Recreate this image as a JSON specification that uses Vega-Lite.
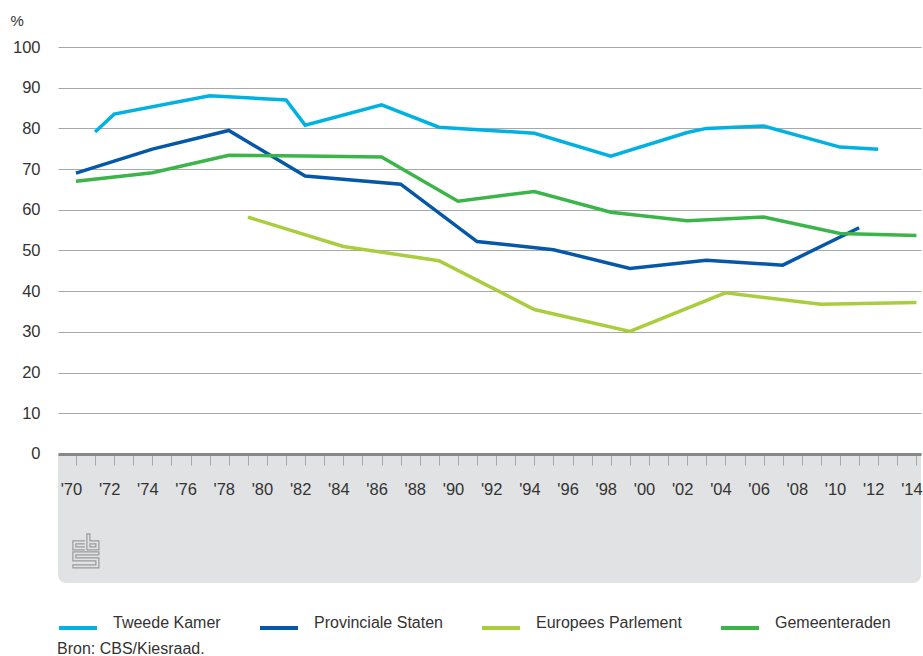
{
  "$schema": "https://vega.github.io/schema/vega-lite/v6.json",
  "autosize": "none",
  "padding": {"left": 58, "top": 47, "right": 2, "bottom": 73},
  "width": 863,
  "height": 536,
  "background": "white",
  "config": {"view": {"stroke": null}, "font": "Liberation Sans"},
  "datasets": {
    "turnout": [
      {"series": "Tweede Kamer", "year": 1971, "pct": 79.1},
      {"series": "Tweede Kamer", "year": 1972, "pct": 83.5},
      {"series": "Tweede Kamer", "year": 1977, "pct": 88.0},
      {"series": "Tweede Kamer", "year": 1981, "pct": 87.0},
      {"series": "Tweede Kamer", "year": 1982, "pct": 80.8},
      {"series": "Tweede Kamer", "year": 1986, "pct": 85.8},
      {"series": "Tweede Kamer", "year": 1989, "pct": 80.3},
      {"series": "Tweede Kamer", "year": 1994, "pct": 78.8},
      {"series": "Tweede Kamer", "year": 1998, "pct": 73.2},
      {"series": "Tweede Kamer", "year": 2002, "pct": 79.0},
      {"series": "Tweede Kamer", "year": 2003, "pct": 80.0},
      {"series": "Tweede Kamer", "year": 2006, "pct": 80.6},
      {"series": "Tweede Kamer", "year": 2010, "pct": 75.4},
      {"series": "Tweede Kamer", "year": 2012, "pct": 74.9},
      {"series": "Provinciale Staten", "year": 1970, "pct": 69.0},
      {"series": "Provinciale Staten", "year": 1974, "pct": 74.9},
      {"series": "Provinciale Staten", "year": 1978, "pct": 79.5},
      {"series": "Provinciale Staten", "year": 1982, "pct": 68.3},
      {"series": "Provinciale Staten", "year": 1987, "pct": 66.3},
      {"series": "Provinciale Staten", "year": 1991, "pct": 52.2},
      {"series": "Provinciale Staten", "year": 1995, "pct": 50.2},
      {"series": "Provinciale Staten", "year": 1999, "pct": 45.6},
      {"series": "Provinciale Staten", "year": 2003, "pct": 47.6},
      {"series": "Provinciale Staten", "year": 2007, "pct": 46.4},
      {"series": "Provinciale Staten", "year": 2011, "pct": 55.6},
      {"series": "Europees Parlement", "year": 1979, "pct": 58.2},
      {"series": "Europees Parlement", "year": 1984, "pct": 51.0},
      {"series": "Europees Parlement", "year": 1989, "pct": 47.5},
      {"series": "Europees Parlement", "year": 1994, "pct": 35.5},
      {"series": "Europees Parlement", "year": 1999, "pct": 30.1},
      {"series": "Europees Parlement", "year": 2004, "pct": 39.6},
      {"series": "Europees Parlement", "year": 2009, "pct": 36.8},
      {"series": "Europees Parlement", "year": 2014, "pct": 37.2},
      {"series": "Gemeenteraden", "year": 1970, "pct": 67.0},
      {"series": "Gemeenteraden", "year": 1974, "pct": 69.1},
      {"series": "Gemeenteraden", "year": 1978, "pct": 73.4},
      {"series": "Gemeenteraden", "year": 1982, "pct": 73.2},
      {"series": "Gemeenteraden", "year": 1986, "pct": 73.0},
      {"series": "Gemeenteraden", "year": 1990, "pct": 62.1},
      {"series": "Gemeenteraden", "year": 1994, "pct": 64.5},
      {"series": "Gemeenteraden", "year": 1998, "pct": 59.4},
      {"series": "Gemeenteraden", "year": 2002, "pct": 57.3},
      {"series": "Gemeenteraden", "year": 2006, "pct": 58.2},
      {"series": "Gemeenteraden", "year": 2010, "pct": 54.2},
      {"series": "Gemeenteraden", "year": 2014, "pct": 53.7}
    ],
    "panel": [{"year": 1969.06, "year2": 2014.24, "pct": 0, "pct2": -31.7}],
    "logo": [{"year": 1970.52, "pct": -23.8}]
  },
  "encoding": {
    "x": {
      "field": "year",
      "type": "quantitative",
      "scale": {"domain": [1969.06, 2014.24], "nice": false, "zero": false},
      "axis": {
        "title": null,
        "values": [1970,1971,1972,1973,1974,1975,1976,1977,1978,1979,1980,1981,1982,1983,1984,1985,1986,1987,1988,1989,1990,1991,1992,1993,1994,1995,1996,1997,1998,1999,2000,2001,2002,2003,2004,2005,2006,2007,2008,2009,2010,2011,2012,2013,2014],
        "labelExpr": "datum.value % 2 == 0 ? \"'\" + substring(toString(datum.value), 2, 4) : ''",
        "grid": false,
        "offset": -129,
        "zindex": 1,
        "domainColor": "#878787",
        "domainWidth": 3,
        "tickColor": "#a8a8a8",
        "tickSize": 11,
        "tickWidth": 1,
        "labelFontSize": 16.5,
        "labelColor": "#333333",
        "labelPadding": 16,
        "labelOffset": -5,
        "labelFlush": false,
        "labelOverlap": false,
        "labelBound": false
      }
    },
    "y": {
      "field": "pct",
      "type": "quantitative",
      "scale": {"domain": [-31.7, 100], "nice": false, "zero": false},
      "axis": {
        "values": [0, 10, 20, 30, 40, 50, 60, 70, 80, 90, 100],
        "grid": true,
        "gridColor": "#a8a8a8",
        "gridWidth": 1,
        "domain": false,
        "ticks": false,
        "labelPadding": 18,
        "labelFontSize": 16.5,
        "labelColor": "#333333",
        "title": "%",
        "titleAngle": 0,
        "titleX": -48,
        "titleY": -27,
        "titleAlign": "left",
        "titleBaseline": "middle",
        "titleFontWeight": "normal",
        "titleFontSize": 15,
        "titleColor": "#333333"
      }
    }
  },
  "layer": [
    {
      "data": {"name": "panel"},
      "mark": {"type": "rect", "color": "#e1e2e4", "cornerRadiusBottomLeft": 8, "cornerRadiusBottomRight": 8},
      "encoding": {"x2": {"field": "year2"}, "y2": {"field": "pct2"}}
    },
    {
      "data": {"name": "logo"},
      "mark": {
        "type": "point",
        "shape": "M-0.059,-0.588 H-0.765 V-0.059 H-0.059 M-0.059,-0.412 H-0.588 V-0.235 H-0.059 M0.059,-1 V-0.059 H0.765 V-0.588 H0.235 V-1 Z M0.235,-0.412 H0.588 V-0.235 H0.235 Z M-0.765,0.059 H0.765 V0.235 H-0.588 V0.412 H0.765 V1 H-0.765 V0.824 H0.588 V0.588 H-0.765 Z",
        "size": 1156,
        "filled": false,
        "color": "#9a9a9a",
        "strokeWidth": 1.2,
        "opacity": 1
      }
    },
    {
      "data": {"name": "turnout"},
      "mark": {"type": "line", "strokeWidth": 3.5},
      "encoding": {
        "color": {
          "field": "series",
          "type": "nominal",
          "scale": {
            "domain": ["Tweede Kamer", "Provinciale Staten", "Europees Parlement", "Gemeenteraden"],
            "range": ["#00b1e1", "#0557a8", "#a9cd3c", "#3bb54a"]
          },
          "legend": {
            "orient": "none",
            "direction": "horizontal",
            "legendX": -1,
            "legendY": 560,
            "padding": 0,
            "symbolType": "stroke",
            "symbolSize": 1444,
            "symbolStrokeWidth": 4,
            "labelFontSize": 16,
            "labelColor": "#333333",
            "labelOffset": 14,
            "labelBaseline": "alphabetic",
            "labelLimit": 300,
            "columnPadding": 31,
            "title": "Bron: CBS/Kiesraad.",
            "titleOrient": "bottom",
            "titleAnchor": "start",
            "titleFontSize": 16,
            "titleFontWeight": "normal",
            "titleColor": "#333333",
            "titlePadding": 5
          }
        }
      }
    }
  ]
}
